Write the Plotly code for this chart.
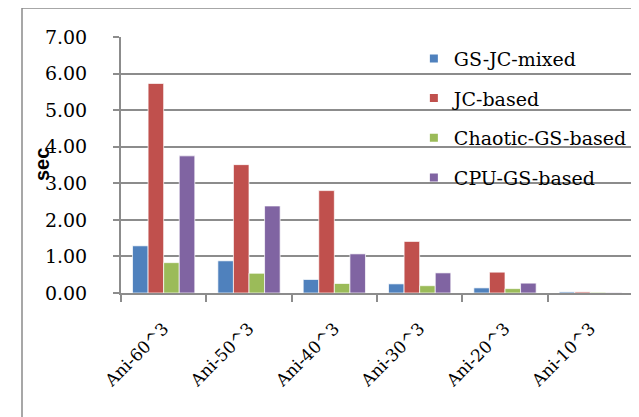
import plotly.graph_objects as go

categories = ["Ani-60^3", "Ani-50^3", "Ani-40^3", "Ani-30^3", "Ani-20^3", "Ani-10^3"]
gs_jc_mixed = [1.29, 0.88, 0.37, 0.25, 0.14, 0.03]
jc_based = [5.73, 3.51, 2.80, 1.41, 0.57, 0.03]
chaotic_gs_based = [0.83, 0.54, 0.26, 0.20, 0.12, 0.02]
cpu_gs_based = [3.75, 2.38, 1.07, 0.55, 0.27, 0.01]

series_names = ["GS-JC-mixed", "JC-based", "Chaotic-GS-based", "CPU-GS-based"]
series_values = [gs_jc_mixed, jc_based, chaotic_gs_based, cpu_gs_based]
colors = ["#4F81BD", "#C0504D", "#9BBB59", "#8064A2"]
y_ticks = [0, 1, 2, 3, 4, 5, 6, 7]

SERIF = "DejaVu Serif"
GRID = "#8c8c8c"

fig = go.Figure()
for name, vals, col in zip(series_names, series_values, colors):
    fig.add_trace(go.Bar(
        x=categories, y=vals, name=name, showlegend=False,
        marker=dict(color=col, line=dict(color="rgba(255,255,255,0.7)", width=1)),
    ))
for i, (name, col) in enumerate(zip(series_names, colors)):
    fig.add_trace(go.Scatter(
        x=[None], y=[None], mode="markers", name=name, legendgroup=f"g{i}",
        marker=dict(symbol="square", size=8, color=col),
    ))

# page has an 8px body margin, so the figure is offset by (8, 8)
fig.update_layout(
    width=631, height=409,
    margin=dict(l=113, r=6, t=29, b=124, autoexpand=False),
    paper_bgcolor="white", plot_bgcolor="white",
    barmode="group", bargap=0.27, bargroupgap=0,
    showlegend=True,
    legend=dict(
        x=0.572, xanchor="left", y=0.99, yanchor="top",
        bgcolor="rgba(0,0,0,0)", font=dict(family=SERIF, size=19, color="black"),
        tracegroupgap=12, traceorder="grouped",
    ),
    xaxis=dict(
        type="category", tickson="boundaries", ticks="outside", ticklen=7,
        tickcolor=GRID, tickwidth=2, showline=True, linecolor=GRID, linewidth=2,
        showgrid=False, tickangle=-45, ticklabelstandoff=17, automargin=False,
        tickfont=dict(family=SERIF, size=17, color="black"),
    ),
    yaxis=dict(
        range=[0, 7], tickvals=y_ticks, tickformat=".2f",
        ticks="outside", ticklen=6, tickcolor=GRID, tickwidth=2,
        showline=True, linecolor=GRID, linewidth=2,
        showgrid=True, gridcolor=GRID, gridwidth=2, zeroline=False,
        ticklabelstandoff=22, automargin=False,
        tickfont=dict(family=SERIF, size=19, color="black"),
    ),
    annotations=[dict(
        text="<b>sec</b>", textangle=-90, xref="paper", yref="paper",
        x=(42 - 121) / 512, y=0.5, xanchor="center", yanchor="middle",
        showarrow=False, font=dict(family="Liberation Sans", size=20, color="black"),
    )],
    shapes=[dict(
        type="rect", xref="paper", yref="paper",
        x0=(22 - 121) / 512, x1=(660 - 121) / 512,
        y0=1 + (37 - 8) / 256, y1=(293 - 440) / 256,
        line=dict(color="#8a8a8a", width=1.5), layer="below",
    )],
)

fig.write_html("out.html")
